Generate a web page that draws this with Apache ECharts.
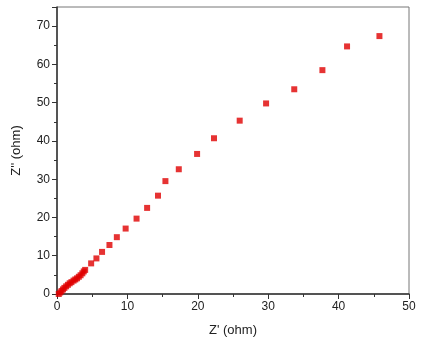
<!DOCTYPE html>
<html>
<head>
<meta charset="utf-8">
<script src="https://cdn.jsdelivr.net/npm/echarts@6/dist/echarts.min.js"></script>
<style>
html,body{margin:0;padding:0;background:#fff;}
#c{width:430px;height:356px;}
</style>
</head>
<body>
<div id="c"></div>
<script>
var zReal = [0.25,0.45,0.65,0.85,1.05,1.3,1.55,1.8,2.05,2.35,2.6,2.85,3.1,3.35,3.6,3.8,4.0,4.85,5.6,6.4,7.45,8.5,9.75,11.3,12.8,14.35,15.4,17.3,19.9,22.3,25.95,29.7,33.7,37.7,41.2,45.8];
var zImag = [0.0,0.4,0.8,1.2,1.6,2.0,2.4,2.8,3.1,3.5,3.8,4.1,4.5,4.9,5.4,5.9,6.3,8.0,9.3,11.0,12.8,14.85,17.1,19.7,22.5,25.7,29.5,32.6,36.6,40.7,45.3,49.8,53.5,58.5,64.7,67.4];
var xTicks = [0,10,20,30,40,50];
var yTicks = [0,10,20,30,40,50,60,70];

var pts = zReal.map(function(v,i){return [v, zImag[i]];});
var chart = echarts.init(document.getElementById('c'), null, {renderer:'canvas'});
var font = 'Liberation Sans, Arial, sans-serif';
chart.setOption({
  animation:false,
  backgroundColor:'#fff',
  grid:{left:57,right:21,top:7,bottom:62,show:true,borderColor:'#777',borderWidth:1,backgroundColor:'transparent'},
  xAxis:{
    type:'value',min:0,max:50,interval:10,
    name:"Z' (ohm)",nameLocation:'middle',nameGap:30,
    nameTextStyle:{fontFamily:font,fontSize:13,color:'#222'},
    axisLine:{show:true,lineStyle:{color:'#333',width:1.5}},
    axisTick:{show:true,length:5,lineStyle:{color:'#333'}},
    minorTick:{show:true,splitNumber:2,length:3,lineStyle:{color:'#333'}},
    splitLine:{show:false},
    axisLabel:{fontFamily:font,fontSize:12,color:'#222',margin:7,
      formatter:function(v){return xTicks.indexOf(v)>=0?String(v):'';}}
  },
  yAxis:{
    type:'value',min:0,max:75,interval:10,
    name:"Z'' (ohm)",nameLocation:'middle',nameGap:34,
    nameTextStyle:{fontFamily:font,fontSize:13,color:'#222'},
    axisLine:{show:true,lineStyle:{color:'#333',width:1.5}},
    axisTick:{show:true,length:5,lineStyle:{color:'#333'}},
    minorTick:{show:true,splitNumber:2,length:3,lineStyle:{color:'#333'}},
    splitLine:{show:false},
    axisLabel:{fontFamily:font,fontSize:12,color:'#222',margin:7,showMaxLabel:false,
      formatter:function(v){return yTicks.indexOf(v)>=0?String(v):'';}}
  },
  series:[{
    type:'scatter',data:pts,symbol:'rect',symbolSize:6,
    itemStyle:{color:'#e00000'}
  }]
});
</script>
</body>
</html>
